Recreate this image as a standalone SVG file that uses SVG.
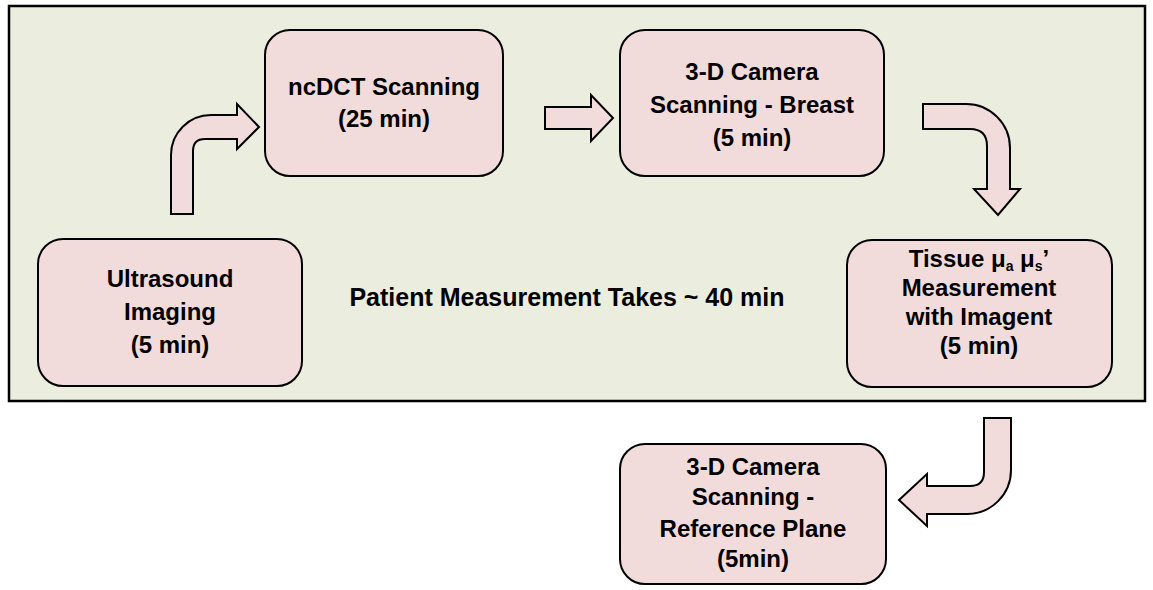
<svg xmlns="http://www.w3.org/2000/svg" width="1153" height="590" viewBox="0 0 1153 590">
<style>
.frame{fill:#EBEEDE;stroke:#000;stroke-width:2.5}
.node{fill:#F2DCDB;stroke:#000;stroke-width:2}
.arrow{fill:#F2DCDB;stroke:#000;stroke-width:2;stroke-linejoin:miter}
text{font-family:"Liberation Sans",Arial,sans-serif;font-weight:bold;font-size:24px;fill:#000;text-anchor:middle}
.title{font-size:25px}
.sub{font-size:14px}
</style>
<rect width="1153" height="590" fill="#FFFFFF"/>
<rect class="frame" x="9" y="6" width="1136" height="395"/>
<text class="title" x="567" y="306">Patient Measurement Takes ~ 40 min</text>
<g id="connectors">
<path class="arrow" d="M171,214 L171,155 A40,40 0 0 1 211,115 L237,115 L237,104 L259,127 L237,149 L237,139 L205,139 Q193,139 193,151 L193,214 Z"/>
<path class="arrow" d="M545,107 L591,107 L591,95 L613,118 L591,141 L591,129 L545,129 Z"/>
<path class="arrow" d="M923,104 L966,104 A44,44 0 0 1 1010,148 L1010,189 L1020,189 L998,215 L974,189 L987,189 L987,146 Q987,129 970,129 L923,129 Z"/>
<path class="arrow" d="M984,418 L1011,418 L1011,470 A44,44 0 0 1 967,514 L927,514 L927,526 L899,500 L927,474 L927,486 L970,486 Q984,486 984,472 Z"/>
</g>
<g id="ncdct">
<rect class="node" x="265" y="30" width="238" height="146" rx="25"/>
<text x="384" y="95">ncDCT Scanning</text>
<text x="384" y="127">(25 min)</text>
</g>
<g id="camera-breast">
<rect class="node" x="620" y="30" width="264" height="146" rx="25"/>
<text x="752" y="80">3-D Camera</text>
<text x="752" y="113">Scanning - Breast</text>
<text x="752" y="146">(5 min)</text>
</g>
<g id="ultrasound">
<rect class="node" x="38" y="239" width="264" height="147" rx="25"/>
<text x="170" y="287">Ultrasound</text>
<text x="170" y="320">Imaging</text>
<text x="170" y="353">(5 min)</text>
</g>
<g id="tissue">
<rect class="node" x="847" y="240" width="265" height="147" rx="25"/>
<text x="979" y="267">Tissue μ<tspan class="sub" dy="4">a</tspan><tspan dy="-4"> μ</tspan><tspan class="sub" dy="4">s</tspan><tspan dy="-4">’</tspan></text>
<text x="979" y="296">Measurement</text>
<text x="979" y="325">with Imagent</text>
<text x="979" y="354">(5 min)</text>
</g>
<g id="camera-reference">
<rect class="node" x="620" y="444" width="266" height="140" rx="25"/>
<text x="753" y="475">3-D Camera</text>
<text x="753" y="505">Scanning -</text>
<text x="753" y="537">Reference Plane</text>
<text x="753" y="567">(5min)</text>
</g>
</svg>
